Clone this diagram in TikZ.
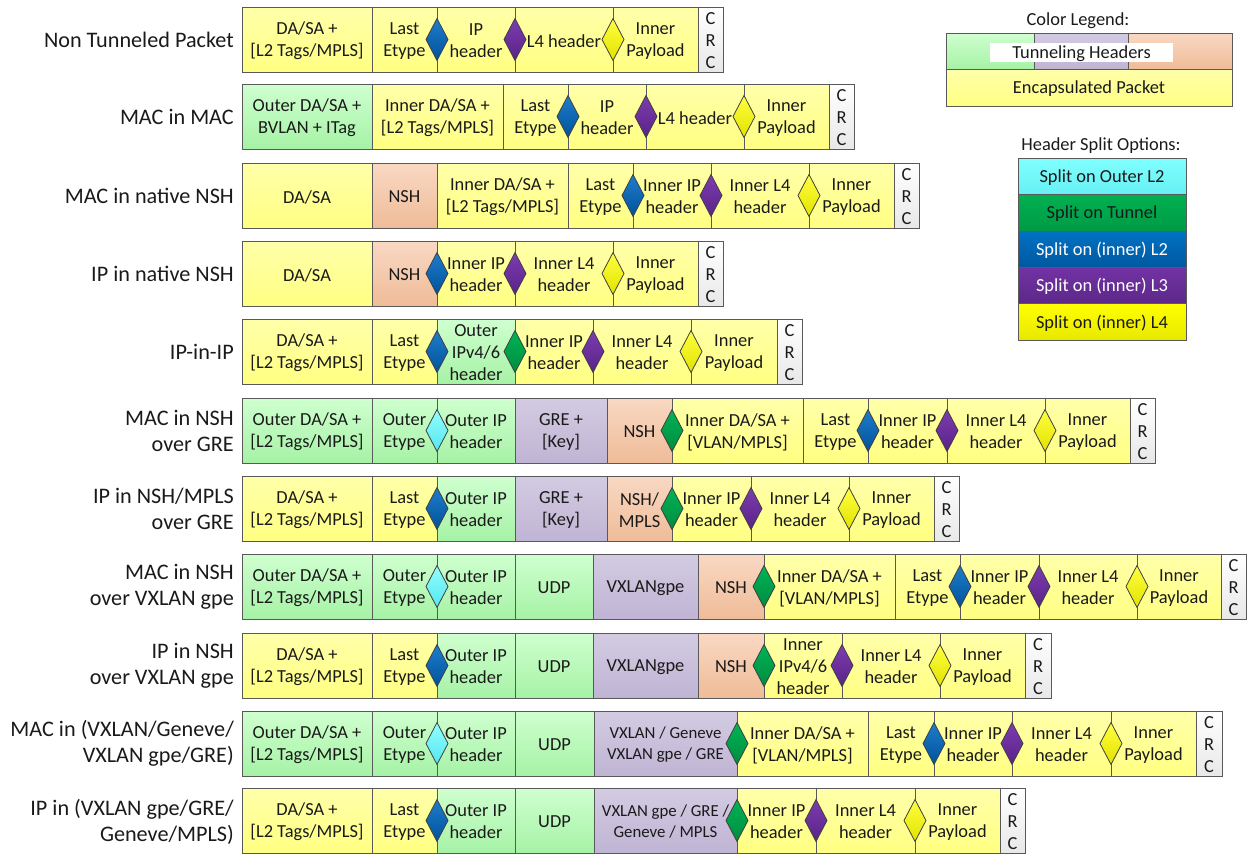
\documentclass[tikz,border=0pt]{standalone}
\usepackage{fontspec}
\setmainfont{Carlito}
\usetikzlibrary{shapes.geometric}
\definecolor{bd}{HTML}{595959}
\definecolor{dbd}{HTML}{404040}
\definecolor{txt}{HTML}{1A1A1A}
\definecolor{yT}{HTML}{FFFFAA}
\definecolor{yB}{HTML}{FFFF82}
\definecolor{gT}{HTML}{CFFFCF}
\definecolor{gB}{HTML}{A6F2A6}
\definecolor{pT}{HTML}{D3CBE2}
\definecolor{pB}{HTML}{C0B4D4}
\definecolor{oT}{HTML}{F9D8C3}
\definecolor{oB}{HTML}{EFBC98}
\definecolor{cT}{HTML}{FFFFFF}
\definecolor{cB}{HTML}{E8E8E8}
\definecolor{dbT}{HTML}{1F7DCB}
\definecolor{dbB}{HTML}{00529A}
\definecolor{dpT}{HTML}{7D3CB0}
\definecolor{dpB}{HTML}{5A2386}
\definecolor{dyT}{HTML}{FFFF40}
\definecolor{dyB}{HTML}{E2E200}
\definecolor{dgT}{HTML}{00B456}
\definecolor{dgB}{HTML}{008C3E}
\definecolor{dcT}{HTML}{90FFFF}
\definecolor{dcB}{HTML}{55E6F0}
\definecolor{sCT}{HTML}{80FFFF}
\definecolor{sCB}{HTML}{66F0F4}
\definecolor{sGT}{HTML}{00B050}
\definecolor{sGB}{HTML}{009A46}
\definecolor{sBT}{HTML}{0072C4}
\definecolor{sBB}{HTML}{0058A0}
\definecolor{sPT}{HTML}{7232A4}
\definecolor{sPB}{HTML}{5C2888}
\definecolor{sYT}{HTML}{FFFF00}
\definecolor{sYB}{HTML}{E8E800}
% \seg[text style]{name}{x0}{x1}{top}{fill style}{text}
\newcommand\seg[7][]{\node[blk,#6,minimum width={(#4-#3)*1pt},anchor=north west] (#2) at (#3,#5) {};
  \node[blkt,#1] (#2t) at ([yshift=-1.5pt]#2.center) {#7};}
\newcommand\dm[4]{\node[dmd,#3] (#1) at (#2,{#4+32.5}) {};}
\begin{document}
\begin{tikzpicture}[x=1pt,y=-1pt,
  blk/.style={draw=bd,line width=1pt,inner sep=0pt,outer sep=0pt,minimum height=65pt},
  blkt/.style={inner sep=0pt,align=center,text=txt,font={\fontsize{18.4}{22}\selectfont}},
  Y/.style={top color=yT,bottom color=yB},
  G/.style={top color=gT,bottom color=gB},
  P/.style={top color=pT,bottom color=pB},
  O/.style={top color=oT,bottom color=oB},
  CR/.style={top color=cT,bottom color=cB},
  dmd/.style={diamond,draw=dbd,line width=0.8pt,inner sep=0pt,outer sep=0pt,minimum width=22pt,minimum height=42pt},
  DB/.style={top color=dbT,bottom color=dbB},
  DP/.style={top color=dpT,bottom color=dpB},
  DY/.style={top color=dyT,bottom color=dyB},
  DG/.style={top color=dgT,bottom color=dgB},
  DC/.style={top color=dcT,bottom color=dcB},
  lbl/.style={anchor=east,align=right,text=txt,inner sep=0pt,font={\fontsize{22.2}{26}\selectfont}},
  small/.style={font={\fontsize{16.8}{21}\selectfont}},
  lg/.style={draw=bd,line width=1pt,inner sep=0pt,outer sep=0pt,anchor=north west},
  lgt/.style={inner sep=0pt,text=txt,font={\fontsize{18.4}{22}\selectfont}},
  sp/.style={lg,minimum width=168pt,minimum height=36.4pt}
]
\useasboundingbox (0,0) rectangle (1247,854);

% ---------- Row labels
\node[lbl] (L1) at (234,39.5) {Non Tunneled Packet};
\node[lbl] (L2) at (234,116.5) {MAC in MAC};
\node[lbl] (L3) at (234,195.5) {MAC in native NSH};
\node[lbl] (L4) at (234,273.5) {IP in native NSH};
\node[lbl] (L5) at (234,351.5) {IP-in-IP};
\node[lbl] (L6) at (234,430.5) {MAC in NSH\\over GRE};
\node[lbl] (L7) at (234,508.5) {IP in NSH/MPLS\\over GRE};
\node[lbl] (L8) at (234,586.5) {MAC in NSH\\over VXLAN gpe};
\node[lbl] (L9) at (234,665.5) {IP in NSH\\over VXLAN gpe};
\node[lbl] (L10) at (234,743.5) {MAC in (VXLAN/Geneve/\\VXLAN gpe/GRE)};
\node[lbl] (L11) at (234,821.5) {IP in (VXLAN gpe/GRE/\\Geneve/MPLS)};

% ---------- Row 1
\seg{r1a}{242}{372}{7}{Y}{DA/SA +\\{}[L2 Tags/MPLS]}
\seg{r1b}{372}{437}{7}{Y}{Last\\Etype}
\seg{r1c}{437}{515}{7}{Y}{IP\\header}
\seg{r1d}{515}{613}{7}{Y}{L4 header}
\seg{r1e}{613}{698}{7}{Y}{Inner\\Payload}
\seg{r1f}{698}{723}{7}{CR}{C\\R\\C}
\dm{r1x}{437}{DB}{7}
\dm{r1y}{515}{DP}{7}
\dm{r1z}{613}{DY}{7}

% ---------- Row 2
\seg{r2a}{242}{372}{84}{G}{Outer DA/SA +\\BVLAN + ITag}
\seg{r2b}{372}{503}{84}{Y}{Inner DA/SA +\\{}[L2 Tags/MPLS]}
\seg{r2c}{503}{568}{84}{Y}{Last\\Etype}
\seg{r2d}{568}{646}{84}{Y}{IP\\header}
\seg{r2e}{646}{744}{84}{Y}{L4 header}
\seg{r2f}{744}{829}{84}{Y}{Inner\\Payload}
\seg{r2g}{829}{854}{84}{CR}{C\\R\\C}
\dm{r2x}{568}{DB}{84}
\dm{r2y}{646}{DP}{84}
\dm{r2z}{744}{DY}{84}

% ---------- Row 3
\seg{r3a}{242}{372}{163}{Y}{DA/SA}
\seg{r3b}{372}{437}{163}{O}{NSH}
\seg{r3c}{437}{568}{163}{Y}{Inner DA/SA +\\{}[L2 Tags/MPLS]}
\seg{r3d}{568}{633}{163}{Y}{Last\\Etype}
\seg{r3e}{633}{711}{163}{Y}{Inner IP\\header}
\seg{r3f}{711}{809}{163}{Y}{Inner L4\\header}
\seg{r3g}{809}{894}{163}{Y}{Inner\\Payload}
\seg{r3h}{894}{919}{163}{CR}{C\\R\\C}
\dm{r3x}{633}{DB}{163}
\dm{r3y}{711}{DP}{163}
\dm{r3z}{809}{DY}{163}

% ---------- Row 4
\seg{r4a}{242}{372}{241}{Y}{DA/SA}
\seg{r4b}{372}{437}{241}{O}{NSH}
\seg{r4c}{437}{515}{241}{Y}{Inner IP\\header}
\seg{r4d}{515}{613}{241}{Y}{Inner L4\\header}
\seg{r4e}{613}{698}{241}{Y}{Inner\\Payload}
\seg{r4f}{698}{723}{241}{CR}{C\\R\\C}
\dm{r4x}{437}{DB}{241}
\dm{r4y}{515}{DP}{241}
\dm{r4z}{613}{DY}{241}

% ---------- Row 5
\seg{r5a}{242}{372}{319}{Y}{DA/SA +\\{}[L2 Tags/MPLS]}
\seg{r5b}{372}{437}{319}{Y}{Last\\Etype}
\seg{r5c}{437}{515}{319}{G}{Outer\\IPv4/6\\header}
\seg{r5d}{515}{593}{319}{Y}{Inner IP\\header}
\seg{r5e}{593}{691}{319}{Y}{Inner L4\\header}
\seg{r5f}{691}{777}{319}{Y}{Inner\\Payload}
\seg{r5g}{777}{802}{319}{CR}{C\\R\\C}
\dm{r5w}{437}{DB}{319}
\dm{r5x}{515}{DG}{319}
\dm{r5y}{593}{DP}{319}
\dm{r5z}{691}{DY}{319}

% ---------- Row 6
\seg{r6a}{242}{372}{398}{G}{Outer DA/SA +\\{}[L2 Tags/MPLS]}
\seg{r6b}{372}{437}{398}{G}{Outer\\Etype}
\seg{r6c}{437}{515}{398}{G}{Outer IP\\header}
\seg{r6d}{515}{607}{398}{P}{GRE +\\{}[Key]}
\seg{r6e}{607}{672}{398}{O}{NSH}
\seg{r6f}{672}{803}{398}{Y}{Inner DA/SA +\\{}[VLAN/MPLS]}
\seg{r6g}{803}{868}{398}{Y}{Last\\Etype}
\seg{r6h}{868}{947}{398}{Y}{Inner IP\\header}
\seg{r6i}{947}{1045}{398}{Y}{Inner L4\\header}
\seg{r6j}{1045}{1130}{398}{Y}{Inner\\Payload}
\seg{r6k}{1130}{1155}{398}{CR}{C\\R\\C}
\dm{r6v}{437}{DC}{398}
\dm{r6w}{672}{DG}{398}
\dm{r6x}{868}{DB}{398}
\dm{r6y}{947}{DP}{398}
\dm{r6z}{1045}{DY}{398}

% ---------- Row 7
\seg{r7a}{242}{372}{476}{Y}{DA/SA +\\{}[L2 Tags/MPLS]}
\seg{r7b}{372}{437}{476}{Y}{Last\\Etype}
\seg{r7c}{437}{515}{476}{G}{Outer IP\\header}
\seg{r7d}{515}{607}{476}{P}{GRE +\\{}[Key]}
\seg{r7e}{607}{672}{476}{O}{NSH/\\MPLS}
\seg{r7f}{672}{751}{476}{Y}{Inner IP\\header}
\seg{r7g}{751}{849}{476}{Y}{Inner L4\\header}
\seg{r7h}{849}{934}{476}{Y}{Inner\\Payload}
\seg{r7i}{934}{959}{476}{CR}{C\\R\\C}
\dm{r7w}{437}{DB}{476}
\dm{r7x}{672}{DG}{476}
\dm{r7y}{751}{DP}{476}
\dm{r7z}{849}{DY}{476}

% ---------- Row 8
\seg{r8a}{242}{372}{554}{G}{Outer DA/SA +\\{}[L2 Tags/MPLS]}
\seg{r8b}{372}{437}{554}{G}{Outer\\Etype}
\seg{r8c}{437}{515}{554}{G}{Outer IP\\header}
\seg{r8d}{515}{593}{554}{G}{UDP}
\seg{r8e}{593}{698}{554}{P}{VXLANgpe}
\seg{r8f}{698}{764}{554}{O}{NSH}
\seg{r8g}{764}{895}{554}{Y}{Inner DA/SA +\\{}[VLAN/MPLS]}
\seg{r8h}{895}{960}{554}{Y}{Last\\Etype}
\seg{r8i}{960}{1039}{554}{Y}{Inner IP\\header}
\seg{r8j}{1039}{1137}{554}{Y}{Inner L4\\header}
\seg{r8k}{1137}{1221}{554}{Y}{Inner\\Payload}
\seg{r8l}{1221}{1246}{554}{CR}{C\\R\\C}
\dm{r8v}{437}{DC}{554}
\dm{r8w}{764}{DG}{554}
\dm{r8x}{960}{DB}{554}
\dm{r8y}{1039}{DP}{554}
\dm{r8z}{1137}{DY}{554}

% ---------- Row 9
\seg{r9a}{242}{372}{633}{Y}{DA/SA +\\{}[L2 Tags/MPLS]}
\seg{r9b}{372}{437}{633}{Y}{Last\\Etype}
\seg{r9c}{437}{515}{633}{G}{Outer IP\\header}
\seg{r9d}{515}{593}{633}{G}{UDP}
\seg{r9e}{593}{698}{633}{P}{VXLANgpe}
\seg{r9f}{698}{764}{633}{O}{NSH}
\seg{r9g}{764}{842}{633}{Y}{Inner\\IPv4/6\\header}
\seg{r9h}{842}{940}{633}{Y}{Inner L4\\header}
\seg{r9i}{940}{1025}{633}{Y}{Inner\\Payload}
\seg{r9j}{1025}{1051}{633}{CR}{C\\R\\C}
\dm{r9w}{437}{DB}{633}
\dm{r9x}{764}{DG}{633}
\dm{r9y}{842}{DP}{633}
\dm{r9z}{940}{DY}{633}

% ---------- Row 10
\seg{r10a}{242}{372}{711}{G}{Outer DA/SA +\\{}[L2 Tags/MPLS]}
\seg{r10b}{372}{437}{711}{G}{Outer\\Etype}
\seg{r10c}{437}{515}{711}{G}{Outer IP\\header}
\seg{r10d}{515}{594}{711}{G}{UDP}
\seg[small]{r10e}{594}{737}{711}{P}{VXLAN / Geneve\\VXLAN gpe / GRE}
\seg{r10f}{737}{868}{711}{Y}{Inner DA/SA +\\{}[VLAN/MPLS]}
\seg{r10g}{868}{934}{711}{Y}{Last\\Etype}
\seg{r10h}{934}{1012}{711}{Y}{Inner IP\\header}
\seg{r10i}{1012}{1111}{711}{Y}{Inner L4\\header}
\seg{r10j}{1111}{1196}{711}{Y}{Inner\\Payload}
\seg{r10k}{1196}{1222}{711}{CR}{C\\R\\C}
\dm{r10v}{437}{DC}{711}
\dm{r10w}{737}{DG}{711}
\dm{r10x}{934}{DB}{711}
\dm{r10y}{1012}{DP}{711}
\dm{r10z}{1111}{DY}{711}

% ---------- Row 11
\seg{r11a}{242}{372}{788}{Y}{DA/SA +\\{}[L2 Tags/MPLS]}
\seg{r11b}{372}{437}{788}{Y}{Last\\Etype}
\seg{r11c}{437}{515}{788}{G}{Outer IP\\header}
\seg{r11d}{515}{594}{788}{G}{UDP}
\seg[small]{r11e}{594}{737}{788}{P}{VXLAN gpe / GRE /\\Geneve / MPLS}
\seg{r11f}{737}{816}{788}{Y}{Inner IP\\header}
\seg{r11g}{816}{915}{788}{Y}{Inner L4\\header}
\seg{r11h}{915}{1000}{788}{Y}{Inner\\Payload}
\seg{r11i}{1000}{1025}{788}{CR}{C\\R\\C}
\dm{r11w}{437}{DB}{788}
\dm{r11x}{737}{DG}{788}
\dm{r11y}{816}{DP}{788}
\dm{r11z}{915}{DY}{788}

% ---------- Color legend
\node[lgt] (lgT) at (1078,20.5) {Color Legend:};
\node[lg,G,minimum width=88pt,minimum height=36pt] (lgG) at (946,33) {};
\node[lg,P,minimum width=94pt,minimum height=36pt] (lgP) at (1034,33) {};
\node[lg,O,minimum width=104pt,minimum height=36pt] (lgO) at (1128,33) {};
\node[fill=white,inner sep=0pt,minimum width=183pt,minimum height=18.5pt] (lgW) at (1081.5,52.5) {};
\node[lgt] (lgWt) at ([yshift=-1pt]lgW.center) {Tunneling Headers};
\node[lg,Y,minimum width=286pt,minimum height=37pt] (lgY) at (946,69) {};
\node[lgt] (lgYt) at ([yshift=-1pt]lgY.center) {Encapsulated Packet};

% ---------- Header split options
\node[lgt] (hsT) at (1101,146) {Header Split Options:};
\node[sp,top color=sCT,bottom color=sCB] (hs1) at (1018,158.3) {};
\node[sp,top color=sGT,bottom color=sGB] (hs2) at (1018,194.7) {};
\node[sp,top color=sBT,bottom color=sBB] (hs3) at (1018,231.1) {};
\node[sp,top color=sPT,bottom color=sPB] (hs4) at (1018,267.5) {};
\node[sp,top color=sYT,bottom color=sYB] (hs5) at (1018,303.9) {};
\node[lgt] (hs1t) at ([yshift=-1pt]hs1.center) {Split on Outer L2};
\node[lgt] (hs2t) at ([yshift=-1pt]hs2.center) {Split on Tunnel};
\node[lgt,text=white] (hs3t) at ([yshift=-1pt]hs3.center) {Split on (inner) L2};
\node[lgt,text=white] (hs4t) at ([yshift=-1pt]hs4.center) {Split on (inner) L3};
\node[lgt] (hs5t) at ([yshift=-1pt]hs5.center) {Split on (inner) L4};
\end{tikzpicture}
\end{document}
